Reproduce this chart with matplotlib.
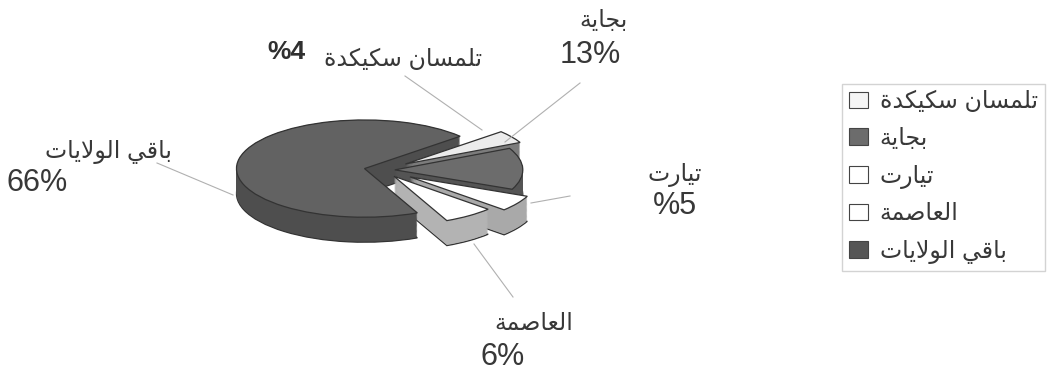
import numpy as np
import matplotlib
matplotlib.use('Agg')
import matplotlib.pyplot as plt
from matplotlib.patches import Patch

# chart data
labels = ['تلمسان سكيكدة', 'بجاية', 'تيارت', 'العاصمة', 'باقي الولايات']
values = [4, 13, 5, 6, 66]
pct_text = ['%4', '13%', '%5', '6%', '66%']

top_colors = ['#ececec', '#6c6c6c', '#ffffff', '#ffffff', '#626262']
side_colors = ['#7c7c7c', '#545454', '#a9a9a9', '#b3b3b3', '#4e4e4e']
legend_colors = ['#f4f4f4', '#6c6c6c', '#ffffff', '#ffffff', '#555555']
explode = [0.22, 0.1, 0.26, 0.16, 0.14]

# presentation forms (isolated, final, initial, medial) for the letters used
AR = {
    'ا': (0xFE8D, 0xFE8E, None, None),
    'ب': (0xFE8F, 0xFE90, 0xFE91, 0xFE92),
    'ة': (0xFE93, 0xFE94, None, None),
    'ت': (0xFE95, 0xFE96, 0xFE97, 0xFE98),
    'ج': (0xFE9D, 0xFE9E, 0xFE9F, 0xFEA0),
    'د': (0xFEA9, 0xFEAA, None, None),
    'ر': (0xFEAD, 0xFEAE, None, None),
    'س': (0xFEB1, 0xFEB2, 0xFEB3, 0xFEB4),
    'ص': (0xFEB9, 0xFEBA, 0xFEBB, 0xFEBC),
    'ع': (0xFEC9, 0xFECA, 0xFECB, 0xFECC),
    'ق': (0xFED5, 0xFED6, 0xFED7, 0xFED8),
    'ك': (0xFED9, 0xFEDA, 0xFEDB, 0xFEDC),
    'ل': (0xFEDD, 0xFEDE, 0xFEDF, 0xFEE0),
    'م': (0xFEE1, 0xFEE2, 0xFEE3, 0xFEE4),
    'ن': (0xFEE5, 0xFEE6, 0xFEE7, 0xFEE8),
    'و': (0xFEED, 0xFEEE, None, None),
    'ي': (0xFEF1, 0xFEF2, 0xFEF3, 0xFEF4),
}

def joins_left(c):
    return c in AR and AR[c][2] is not None

def ar(text):  # shape arabic letters and put them in visual order
    out = []
    i = 0
    while i < len(text):
        c = text[i]
        if c not in AR:
            out.append(c)
            i += 1
            continue
        link_prev = i > 0 and joins_left(text[i-1])
        if c == 'ل' and i + 1 < len(text) and text[i+1] == 'ا':
            out.append('\uFEFC' if link_prev else '\uFEFB')
            i += 2
            continue
        link_next = joins_left(c) and i + 1 < len(text) and text[i+1] in AR
        iso, fin, ini, med = AR[c]
        if link_prev and link_next:
            out.append(chr(med))
        elif link_prev:
            out.append(chr(fin))
        elif link_next:
            out.append(chr(ini))
        else:
            out.append(chr(iso))
        i += 1
    return ''.join(reversed(out))

plt.rcParams['font.family'] = ['Liberation Sans', 'DejaVu Sans']

W, H = 1048, 372
fig = plt.figure(figsize=(W/100, H/100), dpi=100)
ax = fig.add_axes([0, 0, 1, 1])

R = 128.0      # pixels per radius
flat = 0.38    # vertical squash of the pie
cx, cy = 382, 170
depth = 25 / (R*flat)
# small slices grouped on the right (a bit toward the front), big one on the left
start = 360 * sum(values[:4]) / sum(values) / 2 - 12

# side walls: stacked copies of the pie moving up
for k, d in enumerate(np.linspace(depth, 0, 30)):
    ax.pie(values, colors=side_colors, explode=explode, startangle=start,
           counterclock=False, center=(0, -d),
           wedgeprops=dict(linewidth=0.9 if k == 0 else 0, edgecolor='#333333'))
# top faces
ax.pie(values, colors=top_colors, explode=explode, startangle=start,
       counterclock=False, center=(0, 0),
       wedgeprops=dict(linewidth=0.9, edgecolor='#333333'))

ax.set_aspect('auto')
ax.set_xlim(-cx/R, (W-cx)/R)
ax.set_ylim(-(H-cy)/(R*flat), cy/(R*flat))
ax.axis('off')

def fx(x):
    return x / W

def fy(y):
    return 1 - y / H

# leader lines
leaders = [((405, 76), (482, 130)), ((580, 83), (505, 142)),
           ((570, 196), (531, 203)), ((513, 297), (474, 244)),
           ((157, 163), (233, 195))]
for (x0, y0), (x1, y1) in leaders:
    fig.add_artist(plt.Line2D([fx(x0), fx(x1)], [fy(y0), fy(y1)],
                              color='#b0b0b0', lw=0.8))

ar_kw = dict(fontsize=17, color='#383838', va='center')
num_kw = dict(fontsize=22, color='#383838', va='center')
fig.text(fx(628), fy(21), ar(labels[1]), ha='right', **ar_kw)
fig.text(fx(621), fy(55), pct_text[1], ha='right', **num_kw)
fig.text(fx(482), fy(60), ar(labels[0]), ha='right', **ar_kw)
fig.text(fx(286), fy(52), pct_text[0], ha='center', fontsize=19, fontweight='bold',
         color='#303030', va='center')
fig.text(fx(675), fy(175), ar(labels[2]), ha='center', **ar_kw)
fig.text(fx(675), fy(206), pct_text[2], ha='center', **num_kw)
fig.text(fx(573), fy(324), ar(labels[3]), ha='right', **ar_kw)
fig.text(fx(481), fy(357), pct_text[3], ha='left', **num_kw)
fig.text(fx(172), fy(152), ar(labels[4]), ha='right', **ar_kw)
fig.text(fx(7), fy(183), pct_text[4], ha='left', **num_kw)

handles = [Patch(facecolor=c, edgecolor='#444444', linewidth=0.8) for c in legend_colors]
leg = fig.legend(handles, [ar(s) for s in labels], loc='upper left',
                 bbox_to_anchor=(fx(842), fy(84)), fontsize=17, frameon=True,
                 fancybox=False, edgecolor='#c8c8c8', handlelength=0.8,
                 handleheight=0.7, handletextpad=0.5, labelspacing=0.62,
                 borderpad=0.3, borderaxespad=0)
for t in leg.get_texts():
    t.set_color('#383838')

fig.savefig('out.png', dpi=100, facecolor='white')
